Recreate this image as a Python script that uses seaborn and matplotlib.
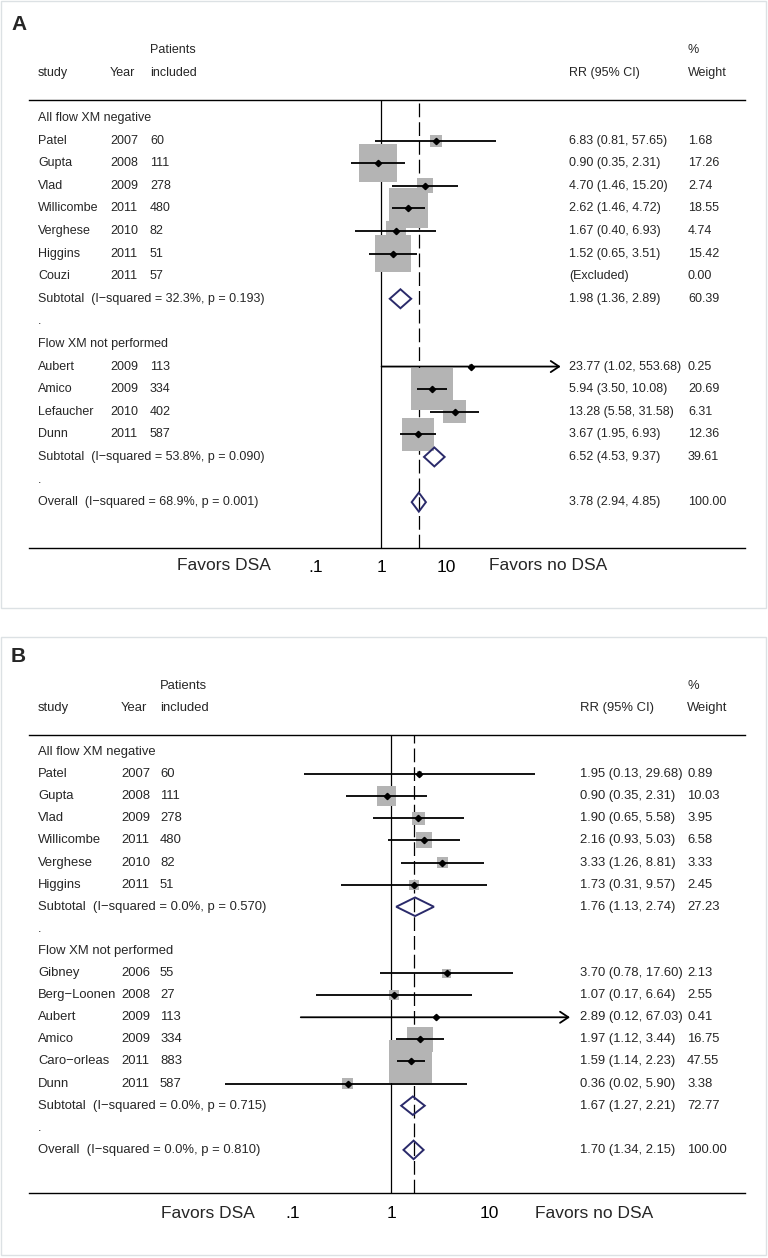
import matplotlib

matplotlib.use("Agg")
import matplotlib.pyplot as plt
import numpy as np
import seaborn as sns
from matplotlib.patches import Polygon, Rectangle
from matplotlib.ticker import NullLocator
from matplotlib.transforms import blended_transform_factory

# ---- panel A: all DSA
a_groups = ["All flow XM negative", "Flow XM not performed"]
a_group = [0, 0, 0, 0, 0, 0, 0, 1, 1, 1, 1]
a_study = ["Patel", "Gupta", "Vlad", "Willicombe", "Verghese", "Higgins", "Couzi",
           "Aubert", "Amico", "Lefaucher", "Dunn"]
a_year = [2007, 2008, 2009, 2011, 2010, 2011, 2011, 2009, 2009, 2010, 2011]
a_n = [60, 111, 278, 480, 82, 51, 57, 113, 334, 402, 587]
a_rr = [6.83, 0.90, 4.70, 2.62, 1.67, 1.52, np.nan, 23.77, 5.94, 13.28, 3.67]
a_lo = [0.81, 0.35, 1.46, 1.46, 0.40, 0.65, np.nan, 1.02, 3.50, 5.58, 1.95]
a_hi = [57.65, 2.31, 15.20, 4.72, 6.93, 3.51, np.nan, 553.68, 10.08, 31.58, 6.93]
a_weight = [1.68, 17.26, 2.74, 18.55, 4.74, 15.42, 0.00, 0.25, 20.69, 6.31, 12.36]
a_sub_rr = [1.98, 6.52]
a_sub_lo = [1.36, 4.53]
a_sub_hi = [2.89, 9.37]
a_sub_weight = [60.39, 39.61]
a_sub_i2 = [32.3, 53.8]
a_sub_p = [0.193, 0.090]
a_all = [3.78, 2.94, 4.85]
a_all_i2, a_all_p = 68.9, 0.001

# ---- panel B
b_groups = ["All flow XM negative", "Flow XM not performed"]
b_group = [0, 0, 0, 0, 0, 0, 1, 1, 1, 1, 1, 1]
b_study = ["Patel", "Gupta", "Vlad", "Willicombe", "Verghese", "Higgins",
           "Gibney", "Berg\u2212Loonen", "Aubert", "Amico", "Caro\u2212orleas", "Dunn"]
b_year = [2007, 2008, 2009, 2011, 2010, 2011, 2006, 2008, 2009, 2009, 2011, 2011]
b_n = [60, 111, 278, 480, 82, 51, 55, 27, 113, 334, 883, 587]
b_rr = [1.95, 0.90, 1.90, 2.16, 3.33, 1.73, 3.70, 1.07, 2.89, 1.97, 1.59, 0.36]
b_lo = [0.13, 0.35, 0.65, 0.93, 1.26, 0.31, 0.78, 0.17, 0.12, 1.12, 1.14, 0.02]
b_hi = [29.68, 2.31, 5.58, 5.03, 8.81, 9.57, 17.60, 6.64, 67.03, 3.44, 2.23, 5.90]
b_weight = [0.89, 10.03, 3.95, 6.58, 3.33, 2.45, 2.13, 2.55, 0.41, 16.75, 47.55, 3.38]
b_sub_rr = [1.76, 1.67]
b_sub_lo = [1.13, 1.27]
b_sub_hi = [2.74, 2.21]
b_sub_weight = [27.23, 72.77]
b_sub_i2 = [0.0, 0.0]
b_sub_p = [0.570, 0.715]
b_all = [1.70, 1.34, 2.15]
b_all_i2, b_all_p = 0.0, 0.810

W, H = 768, 1258
BOX_COLOR = "#b4b4b4"
DIAMOND_COLOR = "#2a2a6a"
MINUS = "\u2212"
ARROW_ABOVE = 60  # CIs reaching past this get an arrowhead


def _het_label(prefix, i2, p):
    return f"{prefix}  (I{MINUS}squared = {i2:.1f}%, p = {p:.3f})"


def draw_forest(fig, px_box, xlim, ylim, cols, fs, box_max_px, d):
    left, top, right, bottom = px_box
    ax = fig.add_axes([left / W, 1 - bottom / H, (right - left) / W, (bottom - top) / H])
    trans = blended_transform_factory(ax.transAxes, ax.transData)

    # row layout
    rows_study, rows_sub, row = [], [], 0
    text_rows = []
    for g, gname in enumerate(d["groups"]):
        text_rows.append((row, gname))
        row += 1
        for gi in d["group"]:
            if gi == g:
                rows_study.append(row)
                row += 1
        rows_sub.append(row)
        row += 1
        text_rows.append((row, "."))
        row += 1
    row_all = row

    rr = np.asarray(d["rr"], dtype=float)
    lo = np.asarray(d["lo"], dtype=float)
    hi = np.asarray(d["hi"], dtype=float)
    w = np.asarray(d["weight"], dtype=float)
    ys = np.asarray(rows_study, dtype=float)
    ok = ~np.isnan(rr)

    ax.axvline(1, color="black", lw=0.9, zorder=1)
    ax.axvline(d["all"][0], color="black", lw=0.9, dashes=(11, 4), zorder=1)

    side_pt = box_max_px * np.sqrt(w[ok] / w.max()) * 72 / 100
    sns.scatterplot(x=rr[ok], y=ys[ok], s=side_pt ** 2, marker="s", color=BOX_COLOR,
                    linewidth=0, edgecolor="none", legend=False, ax=ax, zorder=2)

    for k in np.where(ok)[0]:
        if hi[k] > ARROW_ABOVE:
            ax.annotate("", xy=(hi[k], ys[k]), xytext=(lo[k], ys[k]),
                        arrowprops=dict(arrowstyle="->,head_length=0.6,head_width=0.4",
                                        lw=1.3, color="black", shrinkA=0, shrinkB=0),
                        zorder=3)
        else:
            ax.hlines(ys[k], lo[k], hi[k], color="black", lw=1.3, zorder=3)
    ax.plot(rr[ok], ys[ok], "D", color="black", ms=3.2, zorder=4)

    # pooled diamonds
    pooled = list(zip(rows_sub, d["sub_rr"], d["sub_lo"], d["sub_hi"]))
    pooled.append((row_all, *d["all"]))
    for y, est, l, h in pooled:
        ax.add_patch(Polygon([(l, y), (est, y - 0.42), (h, y), (est, y + 0.42)],
                             closed=True, fill=False, edgecolor=DIAMOND_COLOR,
                             lw=1.4, zorder=4))

    # text columns
    tk = dict(transform=trans, fontsize=fs, va="center", ha="left", clip_on=False)
    ax.text(cols["n"], -3, "Patients", **tk)
    ax.text(cols["w"], -3, "%", **tk)
    ax.text(cols["study"], -2, "study", **tk)
    ax.text(cols["year"], -2, "Year", **tk)
    ax.text(cols["n"], -2, "included", **tk)
    ax.text(cols["rr"], -2, "RR (95% CI)", **tk)
    ax.text(cols["w"], -2, "Weight", **tk)
    for y, s in text_rows:
        ax.text(cols["study"], y, s, **tk)
    for k, y in enumerate(rows_study):
        ax.text(cols["study"], y, d["study"][k], **tk)
        ax.text(cols["year"], y, str(d["year"][k]), **tk)
        ax.text(cols["n"], y, str(d["n"][k]), **tk)
        if np.isnan(rr[k]):
            ci = "(Excluded)"
        else:
            ci = f"{rr[k]:.2f} ({lo[k]:.2f}, {hi[k]:.2f})"
        ax.text(cols["rr"], y, ci, **tk)
        ax.text(cols["w"], y, f"{w[k]:.2f}", **tk)
    for g, y in enumerate(rows_sub):
        ax.text(cols["study"], y, _het_label("Subtotal", d["sub_i2"][g], d["sub_p"][g]), **tk)
        ax.text(cols["rr"], y, f"{d['sub_rr'][g]:.2f} ({d['sub_lo'][g]:.2f}, {d['sub_hi'][g]:.2f})", **tk)
        ax.text(cols["w"], y, f"{d['sub_weight'][g]:.2f}", **tk)
    ax.text(cols["study"], row_all, _het_label("Overall", d["all_i2"], d["all_p"]), **tk)
    ax.text(cols["rr"], row_all, f"{d['all'][0]:.2f} ({d['all'][1]:.2f}, {d['all'][2]:.2f})", **tk)
    ax.text(cols["w"], row_all, "100.00", **tk)

    # axis
    ax.set_xscale("log")
    ax.set_xlim(*xlim)
    ax.set_ylim(*ylim)
    ax.set_xlabel("")
    ax.set_ylabel("")
    ax.set_yticks([])
    ax.set_xticks([0.1, 1, 10])
    ax.set_xticklabels([".1", "1", "10"])
    ax.xaxis.set_minor_locator(NullLocator())
    ax.tick_params(axis="x", direction="out", length=6, width=0.9, pad=3,
                   labelsize=12.5, colors="black")
    for side in ("left", "right"):
        ax.spines[side].set_visible(False)
    for side in ("top", "bottom"):
        ax.spines[side].set_color("black")
        ax.spines[side].set_linewidth(1.0)
    ax.patch.set_alpha(0)
    ax.text(cols["fav_l"], cols["fav_y"], "Favors DSA", transform=ax.transAxes,
            fontsize=12.5, ha="center", va="center")
    ax.text(cols["fav_r"], cols["fav_y"], "Favors no DSA", transform=ax.transAxes,
            fontsize=12.5, ha="center", va="center")
    return ax


sns.set_style("white")
plt.rcParams["font.family"] = ["Liberation Sans", "DejaVu Sans"]

fig = plt.figure(figsize=(W / 100, H / 100), dpi=100)

for y0, y1 in [(1, 608), (637, 1255)]:
    fig.add_artist(Rectangle((1 / W, 1 - y1 / H), 765 / W, (y1 - y0) / H,
                             transform=fig.transFigure, fill=False,
                             edgecolor="#dce1e4", lw=1.0))

fig.text(11 / W, 1 - 25 / H, "A", fontsize=15, fontweight="bold", va="center")
fig.text(11 / W, 1 - 656 / H, "B", fontsize=15, fontweight="bold", va="center")

data_a = dict(groups=a_groups, group=a_group, study=a_study, year=a_year, n=a_n,
              rr=a_rr, lo=a_lo, hi=a_hi, weight=a_weight, sub_rr=a_sub_rr,
              sub_lo=a_sub_lo, sub_hi=a_sub_hi, sub_weight=a_sub_weight,
              sub_i2=a_sub_i2, sub_p=a_sub_p, all=a_all, all_i2=a_all_i2, all_p=a_all_p)
data_b = dict(groups=b_groups, group=b_group, study=b_study, year=b_year, n=b_n,
              rr=b_rr, lo=b_lo, hi=b_hi, weight=b_weight, sub_rr=b_sub_rr,
              sub_lo=b_sub_lo, sub_hi=b_sub_hi, sub_weight=b_sub_weight,
              sub_i2=b_sub_i2, sub_p=b_sub_p, all=b_all, all_i2=b_all_i2, all_p=b_all_p)


def _frac(px):
    return (px - 29) / 716


draw_forest(fig, (29, 100, 745, 548), (10 ** -5.374, 10 ** 5.557), (19.03, -0.796),
            dict(study=_frac(38), year=_frac(110), n=_frac(150), rr=_frac(569), w=_frac(688),
                 fav_l=_frac(224), fav_r=_frac(548), fav_y=-0.040),
            9.0, 42, data_a)
draw_forest(fig, (29, 735, 745, 1193), (10 ** -3.694, 10 ** 3.612), (19.95, -0.77),
            dict(study=_frac(38), year=_frac(121), n=_frac(160), rr=_frac(580), w=_frac(687),
                 fav_l=_frac(208), fav_r=_frac(594), fav_y=-0.044),
            9.4, 43, data_b)

fig.savefig("out.png", dpi=100)
plt.close(fig)
